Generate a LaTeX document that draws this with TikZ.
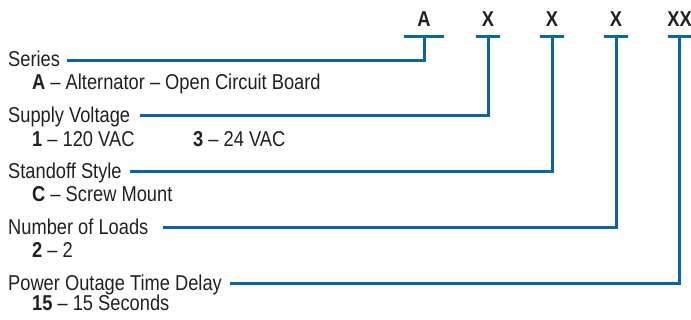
\documentclass[tikz,border=0pt]{standalone}
\usepackage{fontspec}
\setmainfont{Liberation Sans}[FakeStretch=0.85]
\definecolor{pblue}{RGB}{10,101,166}
\definecolor{txt}{RGB}{35,31,32}
\begin{document}
\begin{tikzpicture}[x=1pt,y=-1pt,line join=miter,
  lead/.style={draw=pblue,line width=3pt},
  label/.style={anchor=base west,inner sep=0pt,text=txt,font=\fontsize{21.5}{24}\selectfont},
  code/.style={anchor=base,inner sep=0pt,text=txt,font=\fontsize{21.5}{24}\selectfont\bfseries},
  bar/.style={fill=pblue,inner sep=0pt,minimum height=3pt,minimum width=24pt}]
\useasboundingbox (0,0) rectangle (691,320);
% header codes
\node[code] (cA) at (424,26.7) {A};
\node[code] (c1) at (488,26.7) {X};
\node[code] (c2) at (552,26.7) {X};
\node[code] (c3) at (616,26.7) {X};
\node[code] (c4) at (679.5,26.7) {XX};
\node[bar,minimum width=40pt] (bA) at (424,37) {};
\node[bar] (b1) at (488,37) {};
\node[bar] (b2) at (552,37) {};
\node[bar] (b3) at (616,37) {};
\node[bar,minimum width=23pt] (b4) at (679.5,37) {};
% titles
\node[label] (tS) at (8,66.7) {Series};
\node[label] (sS) at (32,89.7) {\textbf{A} -- Alternator -- Open Circuit Board};
\node[label] (tV) at (8,123) {Supply Voltage};
\node[label] (sV1) at (32,146.5) {\textbf{1} -- 120 VAC};
\node[label] (sV3) at (193,146.5) {\textbf{3} -- 24 VAC};
\node[label] (tO) at (8,179) {Standoff Style};
\node[label] (sO) at (32,202) {\textbf{C} -- Screw Mount};
\node[label] (tL) at (8,235) {Number of Loads};
\node[label] (sL) at (32,258) {\textbf{2} -- 2};
\node[label] (tP) at (8,290.5) {Power Outage Time Delay};
\node[label] (sP) at (32,311) {\textbf{15} -- 15 Seconds};
% leader start points
\coordinate (lS) at (67,61);
\coordinate (lV) at (140,116);
\coordinate (lO) at (130,172);
\coordinate (lL) at (163,228);
\coordinate (lP) at (230,284);
\draw[lead] (lS) -| (bA.center);
\draw[lead] (lV) -| (b1.center);
\draw[lead] (lO) -| (b2.center);
\draw[lead] (lL) -| (b3.center);
\draw[lead] (lP) -| (b4.center);
\end{tikzpicture}
\end{document}
